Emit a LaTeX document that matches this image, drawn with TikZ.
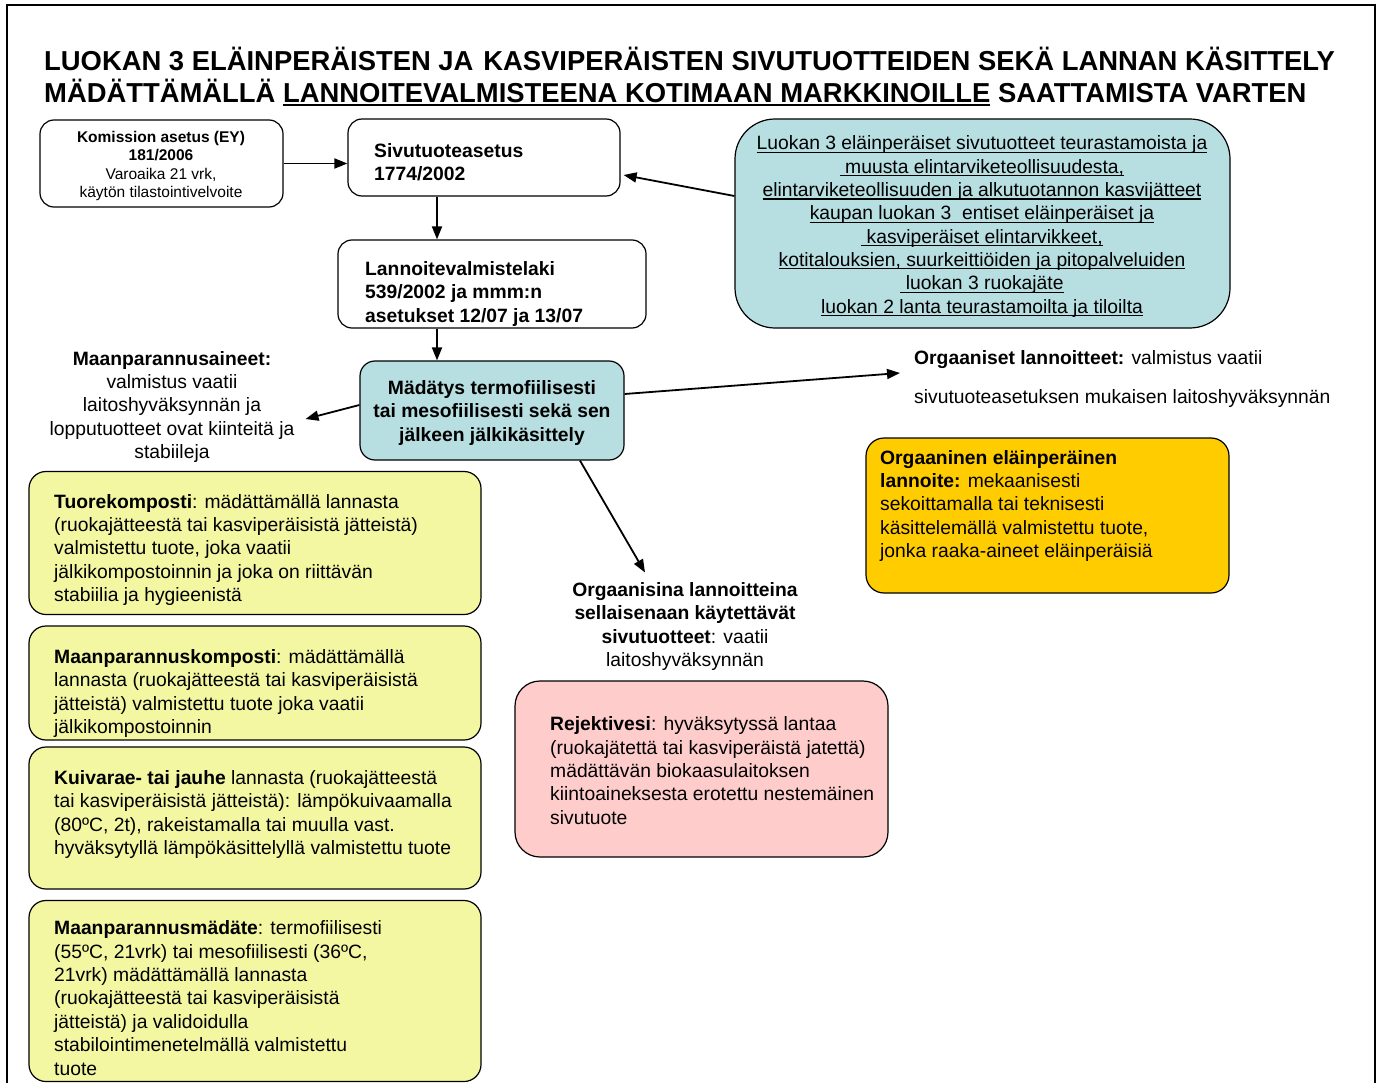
\documentclass[tikz,border=0pt]{standalone}
\usepackage{fontspec}
\setmainfont{Liberation Sans}
\usetikzlibrary{arrows.meta}

\definecolor{tealfill}{RGB}{183,222,225}
\definecolor{yellowfill}{RGB}{243,247,162}
\definecolor{orangefill}{RGB}{255,204,0}
\definecolor{pinkfill}{RGB}{255,204,204}

% font size helper: size and baseline skip in pt
\newcommand{\fsz}[2]{\fontsize{#1}{#2}\selectfont}
% underline with chosen depth and thickness
\newcommand{\ulx}[3]{\setbox0=\hbox{#3}\rlap{\rule[-#1]{\wd0}{#2}}\box0\relax}
\newcommand{\ulc}[1]{\ulx{3pt}{1.2pt}{#1}}

\begin{document}
\begin{tikzpicture}[x=1pt,y=-1pt,
  shape box/.style={draw, line width=1.2pt, inner sep=0pt},
  body/.style={inner sep=0pt, align=left, font=\fsz{19.3}{23.4}},
  arr/.style={line width=1.8pt, -{Triangle[length=13pt,width=10pt]}},
]
\useasboundingbox (0,0) rectangle (1383,1083);

% outer frame, open at the bottom
\draw[line width=2pt] (7,1095) -- (7,5) -- (1375,5) -- (1375,1095);

% heading
\node[anchor=base west, inner sep=0pt, font=\fsz{27.4}{32}\bfseries] (title1) at (44,71)
  {LUOKAN 3 ELÄINPERÄISTEN JA\hspace{0.36em}KASVIPERÄISTEN SIVUTUOTTEIDEN SEKÄ LANNAN KÄSITTELY};
\node[anchor=base west, inner sep=0pt, font=\fsz{27.4}{32}\bfseries] (title2) at (44,103)
  {MÄDÄTTÄMÄLLÄ \ulx{3.5pt}{2pt}{LANNOITEVALMISTEENA KOTIMAAN MARKKINOILLE} SAATTAMISTA VARTEN};

% regulation boxes
\node[shape box, rounded corners=14pt, minimum width=243pt, minimum height=87pt] (kom) at (161.5,163.5) {};
\node[inner sep=0pt, align=center, font=\fsz{15.5}{18.6}] (komt) at (161,166)
  {\textbf{Komission asetus (EY)}\\\textbf{181/2006}\\Varoaika 21 vrk,\\käytön tilastointivelvoite};

\node[shape box, rounded corners=14pt, minimum width=272pt, minimum height=77pt] (sivu) at (484,157.5) {};
\node[inner sep=0pt, align=left, anchor=west, font=\fsz{19.3}{23.2}\bfseries] (sivut) at (374,162)
  {Sivutuoteasetus\\1774/2002};

\node[shape box, rounded corners=14pt, minimum width=308pt, minimum height=88pt] (laki) at (492,284) {};
\node[inner sep=0pt, align=left, anchor=west, font=\fsz{19.3}{23.4}\bfseries] (lakit) at (365,294)
  {Lannoitevalmistelaki\\539/2002 ja mmm:n\\asetukset 12/07 ja 13/07};

% raw material box
\node[shape box, rounded corners=40pt, fill=tealfill, minimum width=495pt, minimum height=209pt] (raaka) at (982.5,223.5) {};
\node[inner sep=0pt, align=center, font=\fsz{19.3}{23.3}] (raakat) at (982,226.5)
  {\ulc{Luokan 3 eläinperäiset sivutuotteet teurastamoista ja}\\
   \ulc{\ muusta elintarviketeollisuudesta,}\\
   \ulc{elintarviketeollisuuden ja alkutuotannon kasvijätteet}\\
   \ulc{kaupan luokan 3\ \ entiset eläinperäiset ja}\\
   \ulc{\ kasviperäiset elintarvikkeet,}\\
   \ulc{kotitalouksien, suurkeittiöiden ja pitopalveluiden}\\
   \ulc{\ luokan 3 ruokajäte}\\
   \ulc{luokan 2 lanta teurastamoilta ja tiloilta}};

% digestion step
\node[shape box, rounded corners=15pt, fill=tealfill, minimum width=264pt, minimum height=99pt] (mad) at (492,410.5) {};
\node[inner sep=0pt, align=center, font=\fsz{19.3}{23.4}\bfseries] (madt) at (492,413)
  {Mädätys termofiilisesti\\tai mesofiilisesti sekä sen\\jälkeen jälkikäsittely};

% outcome texts
\node[inner sep=0pt, align=center, font=\fsz{19.3}{23.4}] (maan) at (172,407)
  {\textbf{Maanparannusaineet:}\\valmistus vaatii\\laitoshyväksynnän ja\\lopputuotteet ovat kiinteitä ja\\stabiileja};

\node[inner sep=0pt, align=left, anchor=west, font=\fsz{19.3}{39}] (org) at (914,379.5)
  {\textbf{Orgaaniset lannoitteet:} valmistus vaatii\\sivutuoteasetuksen mukaisen laitoshyväksynnän};

\node[inner sep=0pt, align=center, font=\fsz{19.3}{23.2}] (orgs) at (685,626.5)
  {\textbf{Orgaanisina lannoitteina}\\\textbf{sellaisenaan käytettävät}\\\textbf{sivutuotteet}: vaatii\\laitoshyväksynnän};

% animal-based fertiliser
\node[shape box, rounded corners=18pt, fill=orangefill, minimum width=363pt, minimum height=155pt] (elain) at (1047.5,515.5) {};
\node[body, anchor=west] (elaint) at (880,506)
  {\textbf{Orgaaninen eläinperäinen}\\\textbf{lannoite:} mekaanisesti\\sekoittamalla tai teknisesti\\käsittelemällä valmistettu tuote,\\jonka raaka-aineet eläinperäisiä};

% reject water
\node[shape box, rounded corners=25pt, fill=pinkfill, minimum width=373pt, minimum height=176pt] (rej) at (701.5,769) {};
\node[body, anchor=west] (rejt) at (550,770.5)
  {\textbf{Rejektivesi}: hyväksytyssä lantaa\\(ruokajätettä tai kasviperäistä jatettä)\\mädättävän biokaasulaitoksen\\kiintoaineksesta erotettu nestemäinen\\sivutuote};

% soil improver products
\node[shape box, rounded corners=17pt, fill=yellowfill, minimum width=452pt, minimum height=143pt] (tuore) at (255,543) {};
\node[body, anchor=west] (tuoret) at (54,550)
  {\textbf{Tuorekomposti}: mädättämällä lannasta\\(ruokajätteestä tai kasviperäisistä jätteistä)\\valmistettu tuote, joka vaatii\\jälkikompostoinnin ja joka on riittävän\\stabiilia ja hygieenistä};

\node[shape box, rounded corners=17pt, fill=yellowfill, minimum width=452pt, minimum height=114pt] (mkomp) at (255,683) {};
\node[body, anchor=west] (mkompt) at (54,693.5)
  {\textbf{Maanparannuskomposti}: mädättämällä\\lannasta (ruokajätteestä tai kasviperäisistä\\jätteistä) valmistettu tuote joka vaatii\\jälkikompostoinnin};

\node[shape box, rounded corners=17pt, fill=yellowfill, minimum width=452pt, minimum height=142pt] (kuiva) at (255,818) {};
\node[body, anchor=west] (kuivat) at (54,814.5)
  {\textbf{Kuivarae- tai jauhe} lannasta (ruokajätteestä\\tai kasviperäisistä jätteistä): lämpökuivaamalla\\(80ºC, 2t), rakeistamalla tai muulla vast.\\hyväksytyllä lämpökäsittelyllä valmistettu tuote};

\node[shape box, rounded corners=17pt, fill=yellowfill, minimum width=452pt, minimum height=181pt] (mmad) at (255,991) {};
\node[body, anchor=west] (mmadt) at (54,998)
  {\textbf{Maanparannusmädäte}: termofiilisesti\\(55ºC, 21vrk) tai mesofiilisesti (36ºC,\\21vrk) mädättämällä lannasta\\(ruokajätteestä tai kasviperäisistä\\jätteistä) ja validoidulla\\stabilointimenetelmällä valmistettu\\tuote};

% connectors
\draw[arr] (kom.east) -- (kom.east -| sivu.west);
\draw[arr] ([yshift=27.5pt]raaka.west) -- ([xshift=3pt,yshift=-17.5pt]sivu.east);
\draw[arr] (sivu.south -| 437,0) -- (laki.north -| 437,0);
\draw[arr] (laki.south -| 437,0) -- (mad.north -| 437,0);
\draw[arr] ([yshift=5.5pt]mad.west) -- ([xshift=11pt,yshift=-12pt]maan.east);
\draw[arr] ([yshift=16.5pt]mad.east) -- ([xshift=-14pt,yshift=6.5pt]org.west);
\draw[arr] ([xshift=88pt]mad.south) -- ([xshift=-40pt,yshift=10pt]orgs.north);
\end{tikzpicture}
\end{document}
